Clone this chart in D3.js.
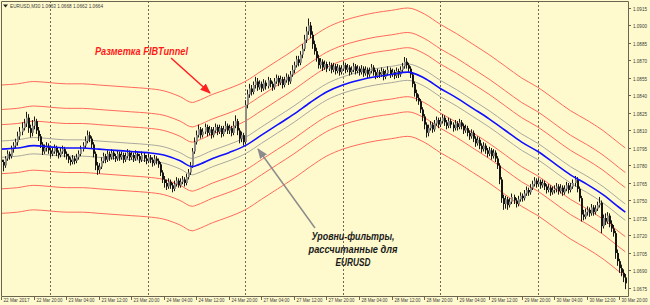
<!DOCTYPE html>
<html>
<head>
<meta charset="utf-8">
<script src="https://cdn.jsdelivr.net/npm/d3@7/dist/d3.min.js"></script>
<style>
  body { margin: 0; background: #fff; }
  svg { display: block; }
</style>
</head>
<body>
<svg width="650" height="305"></svg>
<script>
// M30 bars, 22 Mar 12:00 .. 30 Mar 21:30 (one row = 8 hours); open = previous close
const closes = [
  1.0783,1.0780,1.0786,1.0790,1.0788,1.0794,1.0797,1.0800,1.0805,1.0809,1.0812,1.0816,1.0821,1.0812,1.0808,1.0814,
  1.0818,1.0810,1.0805,1.0798,1.0792,1.0795,1.0797,1.0793,1.0790,1.0792,1.0795,1.0791,1.0789,1.0792,1.0794,1.0790,
  1.0788,1.0785,1.0783,1.0786,1.0784,1.0787,1.0790,1.0794,1.0797,1.0801,1.0806,1.0803,1.0798,1.0790,1.0780,1.0776,
  1.0779,1.0784,1.0788,1.0785,1.0790,1.0787,1.0791,1.0788,1.0786,1.0790,1.0787,1.0789,1.0785,1.0788,1.0791,1.0787,
  1.0789,1.0786,1.0790,1.0788,1.0785,1.0789,1.0786,1.0784,1.0787,1.0785,1.0782,1.0786,1.0784,1.0781,1.0774,1.0768,
  1.0765,1.0762,1.0766,1.0763,1.0760,1.0764,1.0767,1.0763,1.0766,1.0768,1.0765,1.0770,1.0774,1.0780,1.0792,1.0800,
  1.0806,1.0811,1.0806,1.0809,1.0813,1.0808,1.0811,1.0806,1.0810,1.0813,1.0809,1.0812,1.0807,1.0811,1.0814,1.0810,
  1.0812,1.0808,1.0814,1.0818,1.0810,1.0803,1.0806,1.0800,1.0832,1.0841,1.0846,1.0843,1.0849,1.0852,1.0847,1.0850,
  1.0846,1.0851,1.0848,1.0853,1.0850,1.0847,1.0852,1.0855,1.0851,1.0854,1.0849,1.0853,1.0856,1.0852,1.0858,1.0862,
  1.0866,1.0871,1.0868,1.0875,1.0880,1.0888,1.0895,1.0900,1.0892,1.0884,1.0878,1.0872,1.0866,1.0869,1.0864,1.0867,
  1.0863,1.0866,1.0862,1.0865,1.0861,1.0864,1.0860,1.0863,1.0866,1.0862,1.0864,1.0860,1.0862,1.0865,1.0861,1.0863,
  1.0860,1.0863,1.0859,1.0862,1.0858,1.0861,1.0864,1.0860,1.0857,1.0860,1.0858,1.0861,1.0856,1.0859,1.0862,1.0858,
  1.0860,1.0857,1.0861,1.0858,1.0862,1.0865,1.0869,1.0866,1.0863,1.0858,1.0850,1.0842,1.0838,1.0835,1.0828,1.0822,
  1.0815,1.0808,1.0812,1.0815,1.0811,1.0816,1.0819,1.0815,1.0818,1.0821,1.0817,1.0814,1.0818,1.0815,1.0812,1.0816,
  1.0813,1.0817,1.0814,1.0810,1.0812,1.0808,1.0805,1.0808,1.0803,1.0799,1.0802,1.0797,1.0794,1.0797,1.0793,1.0790,
  1.0793,1.0788,1.0791,1.0786,1.0780,1.0768,1.0752,1.0747,1.0751,1.0746,1.0749,1.0753,1.0750,1.0747,1.0751,1.0754,
  1.0752,1.0756,1.0759,1.0757,1.0761,1.0764,1.0767,1.0764,1.0766,1.0763,1.0765,1.0762,1.0759,1.0761,1.0757,1.0759,
  1.0760,1.0762,1.0758,1.0761,1.0757,1.0760,1.0763,1.0759,1.0762,1.0765,1.0768,1.0760,1.0752,1.0738,1.0736,1.0740,
  1.0742,1.0739,1.0744,1.0740,1.0743,1.0746,1.0748,1.0728,1.0735,1.0732,1.0737,1.0730,1.0726,1.0722,1.0705,1.0698,
  1.0692,1.0688,1.0684,1.0679
];
const highs = [
  1.0788,1.0785,1.0788,1.0793,1.0792,1.0797,1.0800,1.0803,1.0809,1.0813,1.0817,1.0820,1.0826,1.0824,1.0815,1.0819,
  1.0822,1.0820,1.0813,1.0807,1.0800,1.0798,1.0800,1.0799,1.0795,1.0795,1.0798,1.0797,1.0793,1.0795,1.0797,1.0796,
  1.0792,1.0790,1.0787,1.0789,1.0788,1.0790,1.0793,1.0797,1.0800,1.0805,1.0810,1.0809,1.0805,1.0800,1.0792,1.0783,
  1.0782,1.0787,1.0791,1.0790,1.0793,1.0792,1.0794,1.0793,1.0790,1.0793,1.0792,1.0792,1.0791,1.0791,1.0794,1.0793,
  1.0792,1.0791,1.0793,1.0792,1.0790,1.0792,1.0791,1.0789,1.0790,1.0789,1.0787,1.0789,1.0788,1.0786,1.0783,1.0776,
  1.0771,1.0768,1.0769,1.0768,1.0765,1.0767,1.0770,1.0769,1.0769,1.0771,1.0770,1.0773,1.0777,1.0783,1.0795,1.0804,
  1.0810,1.0815,1.0813,1.0812,1.0816,1.0815,1.0814,1.0813,1.0813,1.0816,1.0815,1.0815,1.0814,1.0814,1.0818,1.0816,
  1.0815,1.0814,1.0818,1.0823,1.0820,1.0812,1.0809,1.0808,1.0836,1.0845,1.0850,1.0849,1.0852,1.0856,1.0855,1.0853,
  1.0852,1.0854,1.0853,1.0856,1.0855,1.0852,1.0855,1.0858,1.0857,1.0857,1.0856,1.0856,1.0859,1.0858,1.0861,1.0866,
  1.0869,1.0874,1.0874,1.0878,1.0884,1.0892,1.0899,1.0906,1.0903,1.0895,1.0887,1.0881,1.0875,1.0872,1.0871,1.0870,
  1.0869,1.0869,1.0868,1.0868,1.0867,1.0867,1.0866,1.0866,1.0869,1.0868,1.0867,1.0866,1.0865,1.0868,1.0867,1.0866,
  1.0865,1.0866,1.0865,1.0865,1.0864,1.0864,1.0867,1.0866,1.0862,1.0863,1.0862,1.0864,1.0863,1.0862,1.0865,1.0864,
  1.0863,1.0862,1.0864,1.0863,1.0865,1.0868,1.0873,1.0872,1.0868,1.0865,1.0860,1.0852,1.0845,1.0841,1.0837,1.0830,
  1.0824,1.0817,1.0815,1.0818,1.0817,1.0819,1.0822,1.0821,1.0821,1.0824,1.0823,1.0819,1.0821,1.0820,1.0817,1.0819,
  1.0818,1.0820,1.0819,1.0816,1.0815,1.0814,1.0810,1.0811,1.0810,1.0805,1.0805,1.0804,1.0799,1.0800,1.0799,1.0795,
  1.0796,1.0795,1.0794,1.0793,1.0788,1.0782,1.0770,1.0755,1.0754,1.0753,1.0752,1.0756,1.0755,1.0752,1.0754,1.0757,
  1.0756,1.0759,1.0762,1.0761,1.0764,1.0767,1.0770,1.0769,1.0769,1.0768,1.0768,1.0767,1.0764,1.0764,1.0763,1.0762,
  1.0763,1.0765,1.0764,1.0764,1.0763,1.0763,1.0766,1.0765,1.0765,1.0768,1.0771,1.0770,1.0762,1.0754,1.0742,1.0743,
  1.0745,1.0744,1.0747,1.0746,1.0746,1.0749,1.0753,1.0750,1.0738,1.0739,1.0740,1.0739,1.0733,1.0729,1.0724,1.0708,
  1.0700,1.0695,1.0691,1.0687
];
const lows = [
  1.0778,1.0775,1.0778,1.0784,1.0785,1.0786,1.0791,1.0795,1.0797,1.0802,1.0806,1.0810,1.0813,1.0808,1.0804,1.0805,
  1.0811,1.0807,1.0801,1.0795,1.0789,1.0790,1.0792,1.0790,1.0787,1.0788,1.0790,1.0788,1.0786,1.0787,1.0790,1.0787,
  1.0785,1.0782,1.0780,1.0781,1.0781,1.0782,1.0785,1.0788,1.0792,1.0795,1.0799,1.0800,1.0795,1.0787,1.0776,1.0772,
  1.0773,1.0777,1.0782,1.0782,1.0783,1.0784,1.0785,1.0785,1.0783,1.0784,1.0784,1.0785,1.0782,1.0783,1.0786,1.0784,
  1.0785,1.0783,1.0784,1.0785,1.0782,1.0783,1.0783,1.0781,1.0782,1.0782,1.0779,1.0780,1.0781,1.0778,1.0771,1.0765,
  1.0761,1.0759,1.0760,1.0760,1.0757,1.0758,1.0762,1.0761,1.0761,1.0764,1.0762,1.0763,1.0768,1.0772,1.0778,1.0790,
  1.0798,1.0804,1.0803,1.0804,1.0807,1.0805,1.0806,1.0803,1.0804,1.0808,1.0806,1.0807,1.0804,1.0805,1.0809,1.0807,
  1.0807,1.0805,1.0806,1.0812,1.0806,1.0799,1.0800,1.0797,1.0798,1.0829,1.0838,1.0840,1.0841,1.0846,1.0844,1.0845,
  1.0843,1.0844,1.0845,1.0846,1.0847,1.0844,1.0845,1.0850,1.0848,1.0849,1.0846,1.0847,1.0851,1.0849,1.0850,1.0856,
  1.0859,1.0864,1.0865,1.0866,1.0872,1.0878,1.0885,1.0892,1.0889,1.0880,1.0875,1.0869,1.0863,1.0863,1.0861,1.0862,
  1.0860,1.0861,1.0859,1.0860,1.0858,1.0859,1.0857,1.0858,1.0861,1.0859,1.0860,1.0857,1.0858,1.0860,1.0858,1.0859,
  1.0857,1.0858,1.0856,1.0857,1.0855,1.0856,1.0859,1.0857,1.0854,1.0855,1.0855,1.0856,1.0853,1.0854,1.0857,1.0855,
  1.0856,1.0854,1.0855,1.0855,1.0856,1.0860,1.0863,1.0863,1.0860,1.0855,1.0847,1.0839,1.0835,1.0832,1.0825,1.0818,
  1.0811,1.0804,1.0805,1.0810,1.0808,1.0809,1.0814,1.0812,1.0813,1.0816,1.0814,1.0811,1.0812,1.0812,1.0809,1.0810,
  1.0810,1.0811,1.0811,1.0807,1.0808,1.0805,1.0802,1.0803,1.0800,1.0796,1.0797,1.0794,1.0791,1.0792,1.0790,1.0787,
  1.0788,1.0785,1.0786,1.0783,1.0777,1.0764,1.0748,1.0742,1.0743,1.0742,1.0744,1.0747,1.0747,1.0744,1.0745,1.0749,
  1.0749,1.0750,1.0754,1.0754,1.0755,1.0759,1.0762,1.0761,1.0762,1.0760,1.0761,1.0759,1.0756,1.0757,1.0754,1.0755,
  1.0756,1.0757,1.0755,1.0756,1.0754,1.0755,1.0758,1.0756,1.0757,1.0760,1.0762,1.0757,1.0749,1.0732,1.0733,1.0734,
  1.0737,1.0736,1.0737,1.0737,1.0738,1.0741,1.0744,1.0722,1.0726,1.0729,1.0730,1.0727,1.0723,1.0719,1.0700,1.0694,
  1.0688,1.0685,1.0680,1.0674
];
const firstOpen = 1.0785;

// blue tunnel centre, read at every 8th bar
const centerBars = [0,8,16,24,32,40,48,56,64,72,80,88,94,96,104,112,120,128,136,144,152,160,168,176,184,192,200,208,216,224,232,240,248,256,264,272,280,288,296,304,307];
const centerVals = [1.0794,1.0795,1.0797,1.0796,1.0795,1.0795,1.0794,1.0793,1.0792,1.0791,1.0789,1.0784,1.0779,1.0780,1.0786,1.0791,1.0797,1.0806,1.0815,1.0824,1.0834,1.0843,1.0849,1.0853,1.0856,1.0858,1.0860,1.0855,1.0846,1.0838,1.0829,1.0820,1.0810,1.0800,1.0792,1.0782,1.0772,1.0764,1.0755,1.0744,1.0740];

// level offsets from the centre
const greyOffsets = [0.0007, -0.0007];
const redOffsets = [0.0021, 0.0034, 0.0055, -0.0021, -0.0034, -0.0055];

const priceTicks = [1.0915,1.0900,1.0885,1.0870,1.0855,1.0840,1.0825,1.0810,1.0795,1.0780,1.0765,1.0750,1.0735,1.0720,1.0705,1.0690,1.0675];
const timeLabels = ['22 Mar 2017','22 Mar 20:00','23 Mar 04:00','23 Mar 12:00','23 Mar 20:00','24 Mar 04:00','24 Mar 12:00','24 Mar 20:00','27 Mar 04:00','27 Mar 12:00','27 Mar 20:00','28 Mar 04:00','28 Mar 12:00','28 Mar 20:00','29 Mar 04:00','29 Mar 12:00','29 Mar 20:00','30 Mar 04:00','30 Mar 12:00','30 Mar 20:00'];
const daySeparatorBars = [24,72,120,168,216,264];

const svg = d3.select('svg');
const width = +svg.attr('width');
const height = +svg.attr('height');
const plot = {left: 1, right: 628, top: 1, bottom: 296};
const axisFont = 'Liberation Sans, Arial, sans-serif';

const xScale = d3.scaleLinear().domain([0, 307]).range([1.2, 1.2 + 307 * 2.033]);
const yScale = d3.scaleLinear().domain([1.0675, 1.0915]).range([288, 8]);

svg.append('rect').attr('width', width).attr('height', height).attr('fill', '#fffacd');

svg.append('defs').append('clipPath').attr('id', 'clip')
  .append('rect').attr('x', plot.left).attr('y', plot.top)
  .attr('width', plot.right - plot.left).attr('height', plot.bottom - plot.top);

const g = svg.append('g').attr('clip-path', 'url(#clip)');

// day separators
g.selectAll('.sep').data(daySeparatorBars).enter().append('line')
  .attr('x1', d => Math.round(xScale(d)) + 0.5).attr('x2', d => Math.round(xScale(d)) + 0.5)
  .attr('y1', plot.top).attr('y2', plot.bottom)
  .attr('stroke', '#6b6b5a').attr('stroke-width', 1).attr('stroke-dasharray', '2,2');

// tunnel lines
const centerPts = centerBars.map((b, i) => [b, centerVals[i]]);
const line = off => d3.line()
  .x(d => xScale(d[0])).y(d => yScale(d[1] + off))
  .curve(d3.curveMonotoneX);

g.selectAll('.red').data(redOffsets).enter().append('path')
  .attr('d', off => line(off)(centerPts))
  .attr('fill', 'none').attr('stroke', '#ff6a5c').attr('stroke-width', 1);
g.selectAll('.grey').data(greyOffsets).enter().append('path')
  .attr('d', off => line(off)(centerPts))
  .attr('fill', 'none').attr('stroke', '#a8a8a0').attr('stroke-width', 1);

// candles
const bars = closes.map((c, i) => ({i, o: i ? closes[i - 1] : firstOpen, c, h: highs[i], l: lows[i]}));
const cg = g.append('g');
cg.selectAll('line').data(bars).enter().append('line')
  .attr('x1', d => Math.round(xScale(d.i)) + 0.5).attr('x2', d => Math.round(xScale(d.i)) + 0.5)
  .attr('y1', d => yScale(d.h)).attr('y2', d => yScale(d.l))
  .attr('stroke', '#1a1a1a').attr('stroke-width', 1);
cg.selectAll('rect').data(bars).enter().append('rect')
  .attr('x', d => Math.round(xScale(d.i)))
  .attr('y', d => yScale(Math.max(d.o, d.c)))
  .attr('width', 2)
  .attr('height', d => Math.max(1, yScale(Math.min(d.o, d.c)) - yScale(Math.max(d.o, d.c))))
  .attr('fill', d => d.c >= d.o ? '#8e8e86' : '#141414');

g.append('path').attr('d', line(0)(centerPts))
  .attr('fill', 'none').attr('stroke', '#1010ff').attr('stroke-width', 1.6);

// frame
svg.append('path')
  .attr('d', `M${plot.left + 0.5},${plot.bottom + 0.5}V${plot.top + 0.5}H${plot.right + 0.5}V${plot.bottom + 0.5}H${plot.left + 0.5}`)
  .attr('fill', 'none').attr('stroke', '#6b6550').attr('stroke-width', 1);

// price axis
const yAxis = svg.append('g').attr('font-family', axisFont).attr('font-size', 6).attr('fill', '#3a3a3a');
priceTicks.forEach(p => {
  const y = Math.round(yScale(p)) + 0.5;
  yAxis.append('line').attr('x1', plot.right + 1).attr('x2', plot.right + 3).attr('y1', y).attr('y2', y).attr('stroke', '#6b6550');
  yAxis.append('text').attr('x', 633).attr('y', y + 2)
    .attr('textLength', 14).attr('lengthAdjust', 'spacingAndGlyphs').text(p.toFixed(4));
});

// time axis
const xAxis = svg.append('g').attr('font-family', axisFont).attr('font-size', 6).attr('fill', '#3a3a3a');
timeLabels.forEach((t, k) => {
  const x = Math.round(xScale(k * 16)) + 0.5;
  xAxis.append('line').attr('x1', x).attr('x2', x).attr('y1', plot.bottom + 1).attr('y2', plot.bottom + 4).attr('stroke', '#6b6550');
  xAxis.append('text').attr('x', x + 2).attr('y', 302)
    .attr('textLength', 26).attr('lengthAdjust', 'spacingAndGlyphs').text(t);
});

// header
svg.append('path').attr('d', 'M3,4.5H8L5.5,7.5Z').attr('fill', '#222');
svg.append('text').attr('x', 10).attr('y', 8).attr('font-family', axisFont)
  .attr('font-size', 6).attr('fill', '#3a3a3a')
  .attr('textLength', 93).attr('lengthAdjust', 'spacingAndGlyphs')
  .text('EURUSD,M30  1.0663 1.0668 1.0662 1.0664');

// annotations
svg.append('defs').html(
  '<marker id="ahRed" viewBox="0 0 10 10" refX="9" refY="5" markerWidth="7" markerHeight="7" orient="auto"><path d="M0,1L10,5L0,9Z" fill="#ff2020"/></marker>' +
  '<marker id="ahGrey" viewBox="0 0 10 10" refX="9" refY="5" markerWidth="7" markerHeight="7" orient="auto"><path d="M0,1L10,5L0,9Z" fill="#8c8c8c"/></marker>');

svg.append('line').attr('x1', 171).attr('y1', 58).attr('x2', 210).attr('y2', 93)
  .attr('stroke', '#ff2020').attr('stroke-width', 1.5).attr('marker-end', 'url(#ahRed)');
svg.append('text').attr('x', 95).attr('y', 55)
  .attr('font-family', 'Liberation Sans, Arial, sans-serif').attr('font-size', 10)
  .attr('font-weight', 'bold').attr('font-style', 'italic').attr('fill', '#ff1a1a')
  .attr('textLength', 93).attr('lengthAdjust', 'spacingAndGlyphs')
  .text('Разметка FIBTunnel');

svg.append('line').attr('x1', 315).attr('y1', 228).attr('x2', 258).attr('y2', 149)
  .attr('stroke', '#8c8c8c').attr('stroke-width', 1.5).attr('marker-end', 'url(#ahGrey)');
const noteLines = ['Уровни-фильтры,', 'рассчитанные для', 'EURUSD'];
const noteWidths = [83, 89, 35];
noteLines.forEach((t, k) => {
  svg.append('text').attr('x', 353).attr('y', 240 + k * 13).attr('text-anchor', 'middle')
    .attr('font-family', 'Liberation Sans, Arial, sans-serif').attr('font-size', 10)
    .attr('font-weight', 'bold').attr('font-style', 'italic').attr('fill', '#1a1a1a')
    .attr('textLength', noteWidths[k]).attr('lengthAdjust', 'spacingAndGlyphs')
    .text(t);
});
</script>
</body>
</html>
